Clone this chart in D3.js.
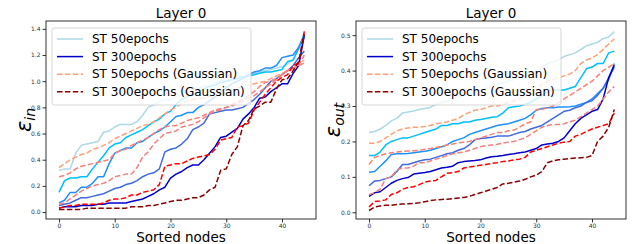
<!DOCTYPE html>
<html>
<head>
<meta charset="utf-8">
<script src="https://cdn.jsdelivr.net/npm/d3@7"></script>
<style>
  body { margin: 0; background: #fff; }
  svg { display: block; font-family: "DejaVu Sans", sans-serif; }
</style>
</head>
<body>
<script>
//
// DATA: sorted node index (x) and errors per training setting
const NODES = d3.range(0, 45);
const X_TICKS = [0, 10, 20, 30, 40];
const Y_TICKS_IN = [0.0, 0.2, 0.4, 0.6, 0.8, 1.0, 1.2, 1.4];
const Y_TICKS_OUT = [0.0, 0.1, 0.2, 0.3, 0.4, 0.5];
const SERIES_NAMES = ['ST 50epochs', 'ST 100epochs', 'ST 150epochs', 'ST 200epochs', 'ST 300epochs',
  'ST 50epochs (Gaussian)', 'ST 100epochs (Gaussian)', 'ST 150epochs (Gaussian)', 'ST 200epochs (Gaussian)', 'ST 300epochs (Gaussian)'];
const LEGEND_NAMES = ['ST 50epochs', 'ST 300epochs', 'ST 50epochs (Gaussian)', 'ST 300epochs (Gaussian)'];

// eps_in, solid (plain) runs
const IN_50 = [0.32,0.33,0.33,0.45,0.51,0.52,0.53,0.54,0.61,0.62,0.65,0.67,0.67,0.67,0.69,0.74,0.80,0.82,0.84,0.86,0.86,0.88,0.90,0.92,0.93,0.95,0.96,0.97,0.99,1.00,1.01,1.02,1.03,1.04,1.05,1.06,1.07,1.08,1.09,1.10,1.11,1.13,1.17,1.25,1.33];
const IN_100 = [0.15,0.24,0.26,0.26,0.27,0.27,0.33,0.38,0.43,0.49,0.52,0.53,0.57,0.59,0.61,0.63,0.66,0.69,0.71,0.75,0.77,0.82,0.86,0.88,0.90,0.92,0.94,0.96,0.97,0.99,1.00,1.01,1.02,1.03,1.04,1.05,1.06,1.07,1.07,1.08,1.09,1.15,1.16,1.25,1.35];
const IN_150 = [0.07,0.09,0.15,0.15,0.19,0.19,0.22,0.27,0.27,0.37,0.45,0.47,0.49,0.49,0.53,0.54,0.57,0.60,0.62,0.65,0.69,0.73,0.74,0.76,0.76,0.80,0.82,0.85,0.88,0.92,0.95,0.98,1.00,1.02,1.05,1.07,1.08,1.10,1.10,1.12,1.18,1.19,1.20,1.26,1.36];
const IN_200 = [0.05,0.06,0.07,0.09,0.11,0.11,0.12,0.13,0.14,0.16,0.18,0.19,0.21,0.22,0.24,0.27,0.29,0.30,0.33,0.46,0.48,0.49,0.52,0.56,0.63,0.65,0.68,0.75,0.76,0.77,0.78,0.78,0.79,0.80,0.83,0.86,0.90,0.95,1.00,1.02,1.05,1.08,1.12,1.18,1.23];
const IN_300 = [0.03,0.04,0.04,0.04,0.05,0.05,0.05,0.06,0.06,0.07,0.07,0.07,0.07,0.08,0.09,0.10,0.12,0.14,0.17,0.19,0.26,0.29,0.31,0.34,0.36,0.36,0.40,0.45,0.50,0.57,0.58,0.61,0.64,0.71,0.75,0.80,0.87,0.88,0.92,0.95,0.98,0.98,1.06,1.12,1.35];
// eps_in, dashed (Gaussian) runs
const IN_G50 = [0.34,0.37,0.40,0.42,0.44,0.45,0.48,0.49,0.51,0.53,0.56,0.58,0.60,0.62,0.64,0.66,0.67,0.69,0.72,0.75,0.78,0.80,0.83,0.85,0.86,0.87,0.87,0.88,0.89,0.90,0.91,0.93,0.95,0.96,0.97,0.98,0.99,1.00,1.02,1.04,1.06,1.08,1.10,1.14,1.16];
const IN_G100 = [0.27,0.28,0.30,0.33,0.35,0.36,0.37,0.38,0.39,0.40,0.45,0.47,0.48,0.51,0.53,0.55,0.57,0.60,0.63,0.65,0.66,0.66,0.68,0.70,0.71,0.72,0.74,0.76,0.78,0.79,0.80,0.81,0.83,0.85,0.87,0.89,0.92,0.95,0.98,1.01,1.05,1.08,1.10,1.12,1.14];
const IN_G150 = [0.06,0.07,0.10,0.13,0.16,0.18,0.20,0.21,0.22,0.24,0.27,0.28,0.29,0.29,0.34,0.42,0.46,0.52,0.56,0.60,0.61,0.62,0.65,0.66,0.67,0.69,0.72,0.75,0.77,0.78,0.80,0.82,0.84,0.86,0.89,0.92,0.96,0.99,1.00,1.02,1.05,1.08,1.10,1.12,1.20];
const IN_G200 = [0.03,0.04,0.05,0.05,0.06,0.06,0.06,0.06,0.07,0.09,0.10,0.10,0.11,0.13,0.13,0.15,0.16,0.17,0.21,0.35,0.36,0.37,0.37,0.39,0.41,0.42,0.43,0.44,0.48,0.55,0.56,0.57,0.65,0.66,0.68,0.78,0.84,0.90,0.95,1.00,1.03,1.05,1.12,1.14,1.38];
const IN_G300 = [0.02,0.02,0.02,0.02,0.02,0.03,0.03,0.03,0.03,0.03,0.03,0.03,0.03,0.04,0.04,0.04,0.05,0.05,0.06,0.07,0.08,0.09,0.09,0.10,0.11,0.11,0.13,0.17,0.19,0.32,0.33,0.44,0.50,0.66,0.70,0.79,0.81,0.84,0.84,0.94,1.01,1.02,1.08,1.15,1.36];

// eps_out, solid (plain) runs
const OUT_50 = [0.225,0.228,0.235,0.245,0.258,0.265,0.280,0.283,0.286,0.290,0.293,0.296,0.305,0.310,0.315,0.320,0.325,0.330,0.335,0.340,0.345,0.350,0.355,0.360,0.365,0.370,0.375,0.380,0.385,0.390,0.400,0.410,0.420,0.425,0.430,0.440,0.445,0.450,0.460,0.470,0.475,0.480,0.490,0.495,0.510];
const OUT_100 = [0.160,0.160,0.170,0.190,0.200,0.205,0.210,0.210,0.215,0.220,0.225,0.230,0.235,0.245,0.245,0.250,0.250,0.255,0.255,0.260,0.262,0.265,0.268,0.270,0.280,0.295,0.298,0.300,0.305,0.310,0.320,0.330,0.340,0.345,0.345,0.345,0.350,0.355,0.380,0.405,0.410,0.420,0.420,0.450,0.455];
const OUT_150 = [0.113,0.115,0.130,0.145,0.163,0.165,0.165,0.166,0.168,0.170,0.172,0.175,0.180,0.185,0.190,0.200,0.205,0.210,0.220,0.225,0.230,0.235,0.240,0.245,0.248,0.250,0.255,0.260,0.265,0.275,0.288,0.293,0.295,0.295,0.297,0.297,0.298,0.300,0.305,0.310,0.320,0.335,0.350,0.375,0.420];
const OUT_200 = [0.075,0.088,0.090,0.095,0.100,0.115,0.135,0.135,0.140,0.145,0.148,0.150,0.155,0.160,0.165,0.168,0.175,0.180,0.190,0.205,0.208,0.210,0.212,0.215,0.215,0.215,0.220,0.225,0.228,0.235,0.240,0.245,0.255,0.265,0.275,0.285,0.288,0.295,0.300,0.310,0.315,0.330,0.350,0.380,0.410];
const OUT_300 = [0.045,0.055,0.058,0.070,0.082,0.090,0.095,0.098,0.108,0.110,0.112,0.115,0.120,0.125,0.127,0.130,0.140,0.143,0.145,0.146,0.148,0.153,0.157,0.158,0.160,0.163,0.165,0.168,0.170,0.175,0.180,0.190,0.193,0.195,0.200,0.210,0.230,0.250,0.265,0.275,0.285,0.290,0.320,0.380,0.415];
// eps_out, dashed (Gaussian) runs
const OUT_G50 = [0.195,0.195,0.200,0.210,0.220,0.230,0.235,0.238,0.240,0.240,0.242,0.245,0.250,0.252,0.255,0.260,0.265,0.275,0.282,0.288,0.290,0.295,0.300,0.300,0.305,0.310,0.315,0.320,0.330,0.340,0.350,0.360,0.370,0.375,0.380,0.385,0.390,0.400,0.420,0.430,0.435,0.445,0.460,0.475,0.490];
const OUT_G100 = [0.135,0.155,0.160,0.165,0.168,0.170,0.172,0.173,0.174,0.175,0.178,0.180,0.183,0.186,0.190,0.193,0.196,0.198,0.200,0.205,0.210,0.215,0.220,0.225,0.225,0.230,0.232,0.240,0.250,0.255,0.290,0.290,0.295,0.300,0.310,0.320,0.330,0.340,0.350,0.360,0.370,0.385,0.400,0.410,0.420];
const OUT_G150 = [0.050,0.055,0.065,0.095,0.100,0.120,0.125,0.125,0.130,0.140,0.140,0.145,0.150,0.155,0.160,0.165,0.168,0.170,0.175,0.180,0.185,0.188,0.190,0.192,0.195,0.198,0.200,0.205,0.210,0.220,0.230,0.240,0.245,0.248,0.248,0.250,0.255,0.260,0.270,0.280,0.290,0.300,0.320,0.340,0.355];
const OUT_G200 = [0.015,0.030,0.032,0.035,0.050,0.055,0.065,0.070,0.072,0.078,0.085,0.088,0.090,0.100,0.110,0.112,0.115,0.125,0.128,0.130,0.133,0.135,0.138,0.140,0.143,0.145,0.148,0.150,0.155,0.170,0.175,0.180,0.185,0.190,0.195,0.198,0.200,0.215,0.220,0.228,0.235,0.240,0.245,0.250,0.280];
const OUT_G300 = [0.005,0.015,0.018,0.020,0.020,0.022,0.023,0.024,0.025,0.027,0.030,0.033,0.035,0.036,0.037,0.038,0.040,0.042,0.045,0.050,0.055,0.060,0.065,0.070,0.080,0.082,0.085,0.088,0.093,0.100,0.105,0.115,0.140,0.145,0.148,0.150,0.152,0.153,0.154,0.155,0.160,0.200,0.215,0.240,0.290];

window.addEventListener('load', function () {
  //
  // STYLE OF EACH SERIES (same order as SERIES_NAMES)
  const COLORS = ['#add8e6', '#00bfff', '#1e90ff', '#4169e1', '#0000cd',
    '#ffa07a', '#fa8072', '#f08080', '#ff0000', '#8b0000'];
  const DASHED = [false, false, false, false, false, true, true, true, true, true];
  //
  // SIZE
  const WIDTH = 637, HEIGHT = 244;
  const PLOT_W = 270, PLOT_H = 198, PLOT_TOP = 21;

  const svg = d3.select('body').append('svg')
    .attr('width', WIDTH)
    .attr('height', HEIGHT);

  const panels = [
    { left: 46, series: [IN_50, IN_100, IN_150, IN_200, IN_300, IN_G50, IN_G100, IN_G150, IN_G200, IN_G300],
      yDomain: [-0.053, 1.46], yTicks: Y_TICKS_IN, yFmt: d3.format('.1f'), sub: 'in', labelX: 25 },
    { left: 356, series: [OUT_50, OUT_100, OUT_150, OUT_200, OUT_300, OUT_G50, OUT_G100, OUT_G150, OUT_G200, OUT_G300],
      yDomain: [-0.019, 0.54], yTicks: Y_TICKS_OUT, yFmt: d3.format('.1f'), sub: 'out', labelX: 334 }
  ];

  panels.forEach(function (p) {
    const g = svg.append('g').attr('transform', 'translate(' + p.left + ',' + PLOT_TOP + ')');

    const x = d3.scaleLinear().domain([-2.33, 46.1]).range([0, PLOT_W]);
    const y = d3.scaleLinear().domain(p.yDomain).range([PLOT_H, 0]);

    g.append('defs').append('clipPath').attr('id', 'clip' + p.sub)
      .append('rect').attr('width', PLOT_W).attr('height', PLOT_H);

    // lines
    const line = d3.line()
      .x(function (d, i) { return x(NODES[i]); })
      .y(function (d) { return y(d); });

    g.append('g').attr('clip-path', 'url(#clip' + p.sub + ')')
      .selectAll('path')
      .data(p.series)
      .enter()
      .append('path')
      .attr('d', line)
      .attr('fill', 'none')
      .attr('stroke', function (d, i) { return COLORS[i]; })
      .attr('stroke-width', 1.5)
      .attr('stroke-linejoin', 'round')
      .attr('stroke-dasharray', function (d, i) { return DASHED[i] ? '5.5,2.4' : null; });

    // axes
    const xAxis = d3.axisBottom(x).tickValues(X_TICKS).tickSize(3.5).tickPadding(1.5);
    const yAxis = d3.axisLeft(y).tickValues(p.yTicks).tickFormat(p.yFmt).tickSize(3.5).tickPadding(2);

    const gx = g.append('g').attr('transform', 'translate(0,' + PLOT_H + ')').call(xAxis);
    const gy = g.append('g').call(yAxis);
    [gx, gy].forEach(function (a) {
      a.select('.domain').remove();
      a.selectAll('.tick line').attr('stroke', '#000').attr('stroke-width', 0.8);
      a.selectAll('.tick text').attr('font-size', 6).attr('fill', '#333')
        .attr('font-family', '"DejaVu Sans", sans-serif');
    });

    // frame
    g.append('rect')
      .attr('width', PLOT_W).attr('height', PLOT_H)
      .attr('fill', 'none').attr('stroke', '#000').attr('stroke-width', 0.8);

    // title
    g.append('text')
      .attr('x', PLOT_W / 2).attr('y', -3)
      .attr('text-anchor', 'middle')
      .attr('font-size', 13.5)
      .text('Layer 0');

    // x label
    g.append('text')
      .attr('x', PLOT_W / 2).attr('y', PLOT_H + 22.5)
      .attr('text-anchor', 'middle')
      .attr('font-size', 13.5)
      .text('Sorted nodes');

    // y label (epsilon with subscript)
    const yl = svg.append('text')
      .attr('transform', 'translate(' + p.labelX + ',' + (PLOT_TOP + PLOT_H / 2) + ') rotate(-90)')
      .attr('text-anchor', 'middle')
      .attr('dy', '0.35em')
      .attr('font-style', 'italic');
    yl.append('tspan').attr('font-size', 21).text('\u03b5');
    yl.append('tspan').attr('font-size', 14).attr('dy', 4).text(p.sub);

    // legend
    const leg = g.append('g').attr('transform', 'translate(6,7)');
    leg.append('rect')
      .attr('width', 199).attr('height', 77)
      .attr('rx', 2.5)
      .attr('fill', '#fff').attr('fill-opacity', 0.8)
      .attr('stroke', '#ccc').attr('stroke-width', 0.8);

    const items = leg.selectAll('g.item')
      .data(LEGEND_NAMES)
      .enter()
      .append('g')
      .attr('class', 'item')
      .attr('transform', function (d, i) { return 'translate(0,' + (11 + i * 17.6) + ')'; });

    items.append('line')
      .attr('x1', 5).attr('x2', 31)
      .attr('stroke', function (d) { return COLORS[SERIES_NAMES.indexOf(d)]; })
      .attr('stroke-width', 1.5)
      .attr('stroke-dasharray', function (d) { return DASHED[SERIES_NAMES.indexOf(d)] ? '5.5,2.4' : null; });

    items.append('text')
      .attr('x', 40).attr('dy', '0.35em')
      .attr('font-size', 12)
      .text(function (d) { return d; });
  });
}, false);
</script>
</body>
</html>
